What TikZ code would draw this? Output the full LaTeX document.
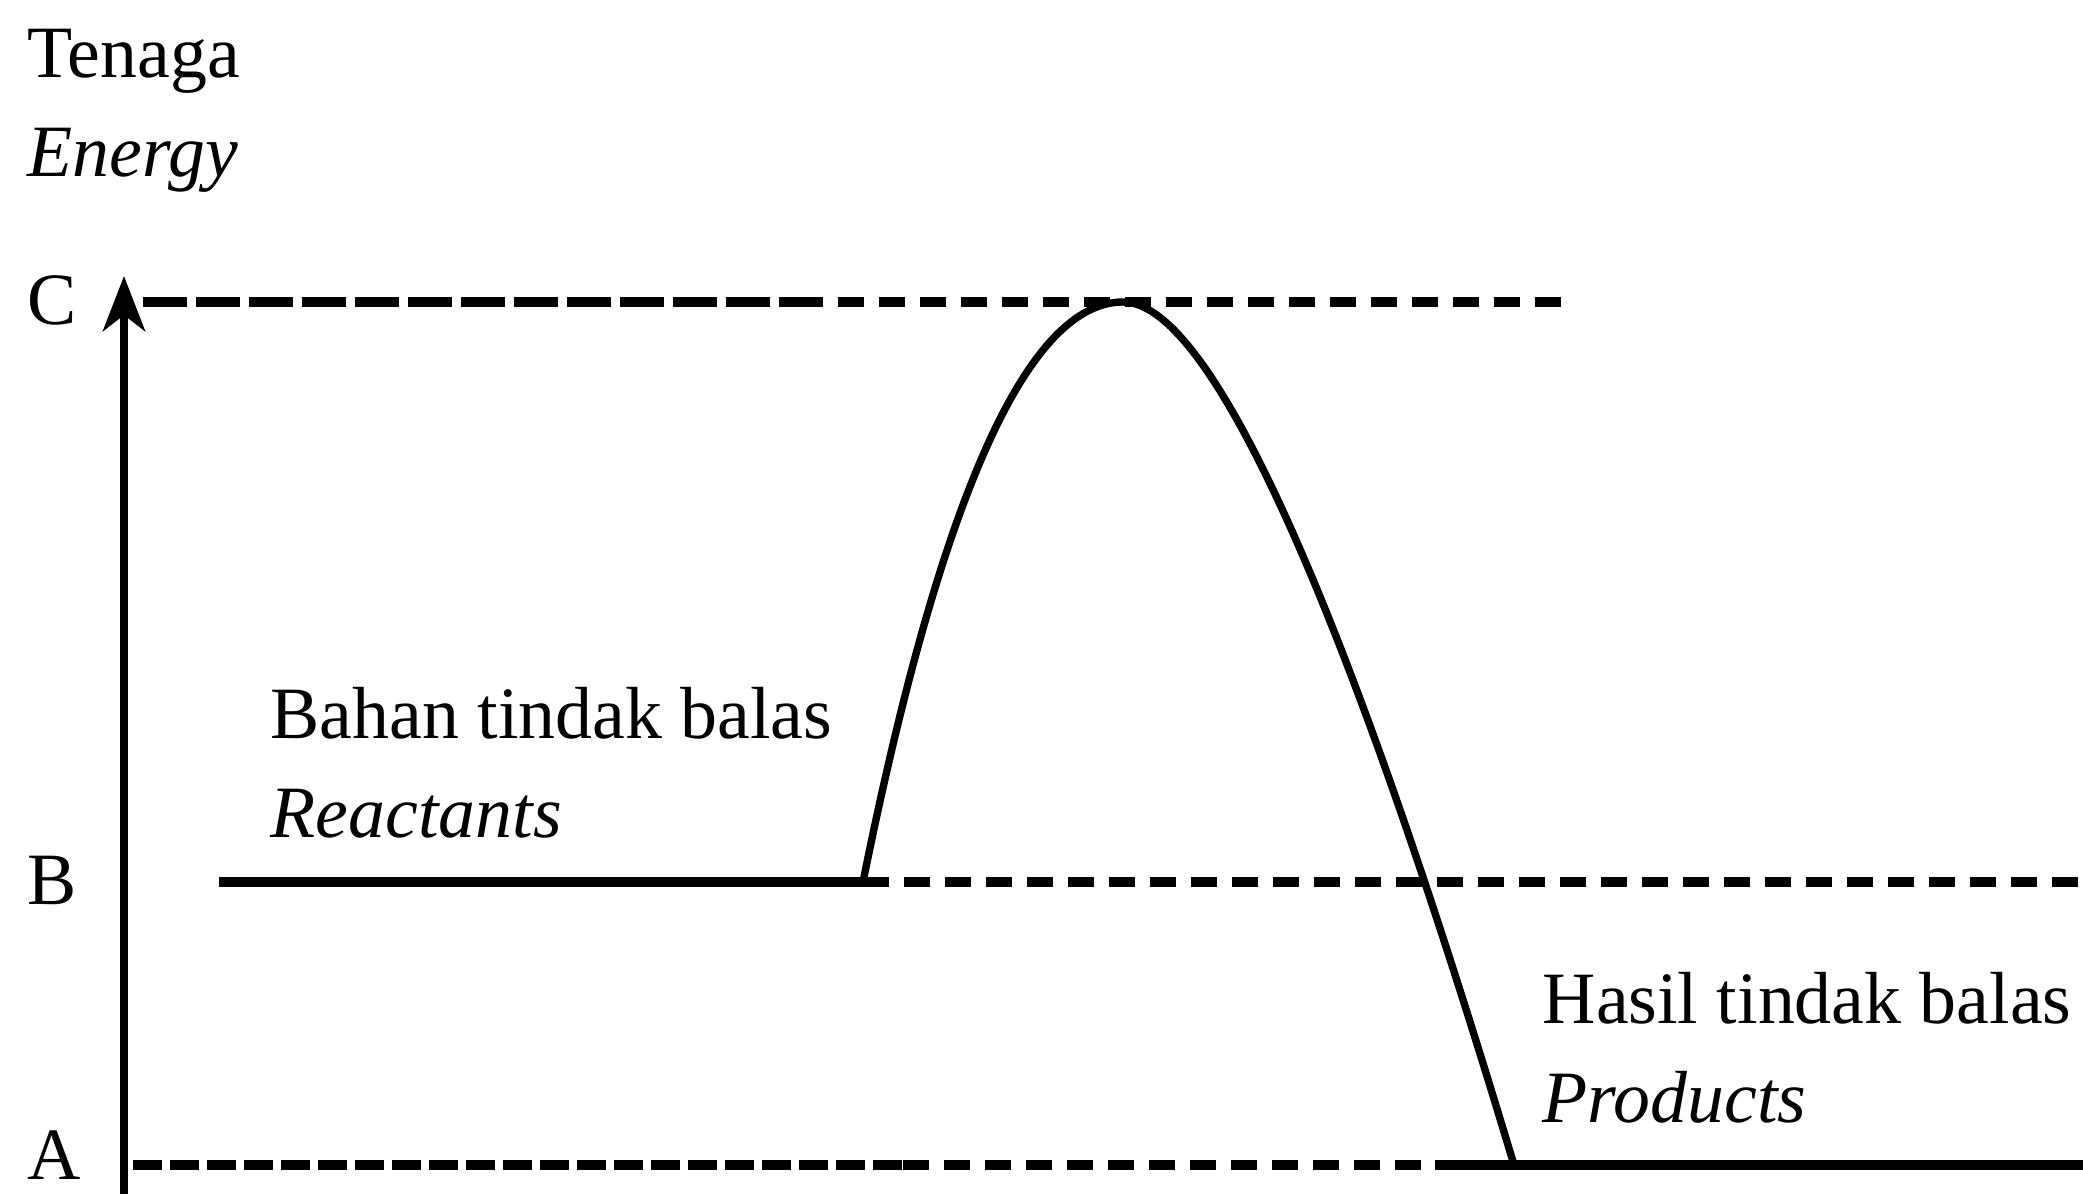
\documentclass[tikz,border=0pt]{standalone}
\usepackage{fontspec}
\setmainfont{Liberation Serif}
\usepackage{tikz}
\usetikzlibrary{arrows.meta, positioning, calc}

\begin{document}
\begin{tikzpicture}[
    font=\fontsize{21}{25}\selectfont,
    lbl/.style={inner sep=0pt, anchor=base west},
    lvl/.style={inner sep=0pt, anchor=west},
    axis/.style={line width=2.5pt, -{Stealth[length=5.5mm, width=4.2mm, inset=1.6mm]}},
    longdash/.style={line width=2.8pt, dash pattern=on 0.44cm off 0.09cm},
    shortdash/.style={line width=2.8pt, dash pattern=on 0.26cm off 0.15cm},
    densedash/.style={line width=2.8pt, dash pattern=on 0.29cm off 0.08cm},
    level/.style={line width=2.8pt},
    curve/.style={line width=2.1pt}
]
\useasboundingbox (0,0) rectangle (20.83,11.94);

% Nodes
\node (tenaga) [lbl] at (0.27,11.16) {Tenaga};
\node (energy) [lbl] at (0.27,10.17) {\itshape Energy};
\node (labC) [lvl] at (0.27,8.94) {C};
\node (labB) [lvl] at (0.27,3.14) {B};
\node (labA) [lvl] at (0.27,0.39) {A};
\node (bahan) [lbl] at (2.70,4.56) {Bahan tindak balas};
\node (reactants) [lbl] at (2.70,3.57) {\itshape Reactants};
\node (hasil) [lbl] at (15.42,1.71) {Hasil tindak balas};
\node (products) [lbl] at (15.42,0.72) {\itshape Products};

% Coordinates
\coordinate (origin) at (1.24,0);
\coordinate (top) at (1.24,9.18);
\coordinate (cstart) at (1.43,8.92);
\coordinate (cmid) at (7.97,8.92);
\coordinate (cend) at (15.61,8.92);
\coordinate (peak) at (11.23,8.92);
\coordinate (bstart) at (2.19,3.12);
\coordinate (bend) at (8.63,3.12);
\coordinate (bfar) at (20.83,3.12);
\coordinate (astart) at (1.33,0.29);
\coordinate (amid) at (9.03,0.29);
\coordinate (adash) at (14.25,0.29);
\coordinate (asolid) at (14.35,0.29);
\coordinate (aend) at (15.14,0.29);
\coordinate (afar) at (20.83,0.29);

% Paths
\draw [axis] (origin) -- (top);
\draw [longdash] (cstart) -- (cmid);
\draw [shortdash] (cmid) -- (cend);
\draw [level] (bstart) -- (bend);
\draw [shortdash] (bend) -- (bfar);
\draw [densedash] (astart) -- (amid);
\draw [shortdash] (amid) -- (adash);
\draw [level] (asolid) -- (afar);
\draw [curve] (bend) .. controls (9.50,7.44) and (10.40,8.92) .. (peak)
    .. controls (12.20,8.92) and (13.64,5.29) .. (aend);

\end{tikzpicture}
\end{document}
